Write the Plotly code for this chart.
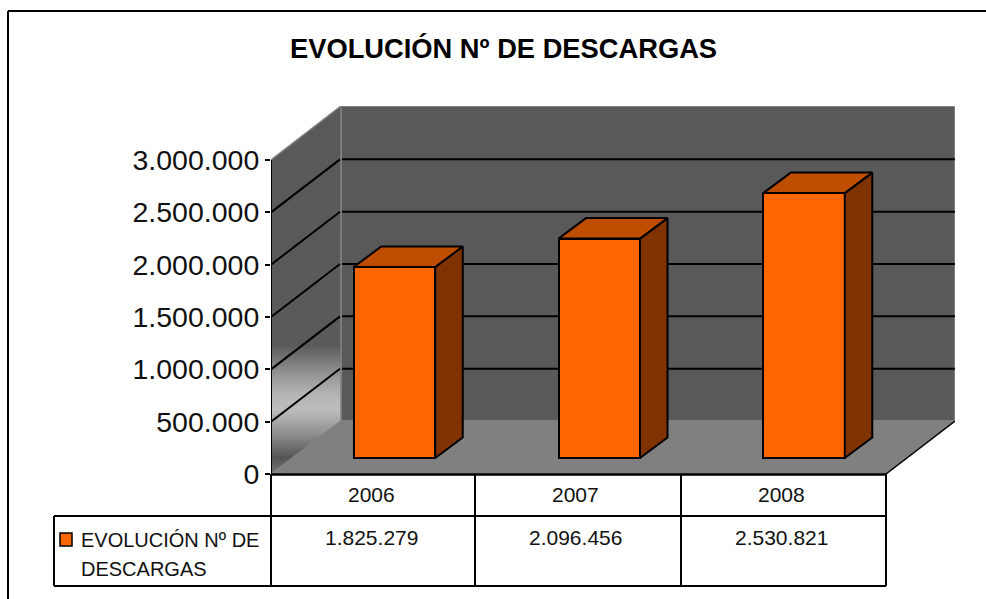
import plotly.graph_objects as go

title = "EVOLUCIÓN Nº DE DESCARGAS"
series_lines = ["EVOLUCIÓN Nº DE", "DESCARGAS"]
years = ["2006", "2007", "2008"]
values = [1825279, 2096456, 2530821]
y_ticks = [0, 500000, 1000000, 1500000, 2000000, 2500000, 3000000]

W, H = 986, 599
L, R, T, B = 271, 955, 106, 474
XU = 204.75               # px per category
YU = 52.33 / 500000       # px per value unit
xpos = [0, 1, 2]
X0 = (L - 394.5) / XU
X1 = X0 + (R - L) / XU
Y1 = (B - T) / YU

def dx(px): return px / XU
def dy(px): return px / YU

WALL_X, WALL_Y = dx(70), dy(53)
BASE = dy(16)
BAR_W = 81.5 / XU
BAR_X, BAR_Y = dx(27.5), dy(20.5)
AX_END = X0 + (886 - L) / XU

def fmt(v): return f"{v:,}".replace(",", ".")
def px(x): return (x - L) / (R - L)
def py(y): return (B - y) / (B - T)

fig = go.Figure()
def poly(xs, ys, fill, line=None, lw=1.5, axes="", grad=None):
    kw = dict(fillgradient=grad) if grad else dict(fillcolor=fill)
    fig.add_trace(go.Scatter(
        x=xs + xs[:1], y=ys + ys[:1], mode="lines", fill="toself",
        line=dict(color=line or "rgba(0,0,0,0)", width=lw),
        xaxis="x" + axes, yaxis="y" + axes, hoverinfo="skip", showlegend=False,
        cliponaxis=False, **kw))

# back wall
wx = X0 + WALL_X
poly([wx, X1, X1, wx], [WALL_Y, WALL_Y, Y1, Y1], "#595959", "#8c8c8c", 1.5)
# side wall, with gradient low down
poly([X0, wx, wx, X0], [0, WALL_Y, Y1, 3000000], "#595959", "#808080", 1.5,
     grad=dict(type="vertical", colorscale=[
         [0.0, "#707070"], [0.046, "#555555"], [0.11, "#909090"], [0.174, "#bdbdbd"],
         [0.215, "#b5b5b5"], [0.274, "#929292"], [0.35, "#5a5a5a"], [1.0, "#595959"]]))
# floor
poly([X0, AX_END, X1, wx], [0, 0, WALL_Y, WALL_Y], "#808080")

# gridlines: side wall and back wall
for t in y_ticks[1:-1]:
    fig.add_trace(go.Scatter(x=[X0, wx - dx(1)], y=[t, t + WALL_Y], mode="lines",
                             line=dict(color="black", width=2), showlegend=False,
                             hoverinfo="skip", cliponaxis=False))
    fig.add_trace(go.Scatter(x=[wx + dx(1), X1], y=[t + WALL_Y, t + WALL_Y], mode="lines",
                             line=dict(color="black", width=2), showlegend=False,
                             hoverinfo="skip", cliponaxis=False))
# front-right edge of floor
fig.add_trace(go.Scatter(x=[AX_END, X1], y=[0, WALL_Y], mode="lines",
                         line=dict(color="black", width=1.5), showlegend=False,
                         hoverinfo="skip", cliponaxis=False))
# value axis line
fig.add_trace(go.Scatter(x=[X0, X0], y=[0, 3000000], mode="lines",
                         line=dict(color="black", width=2), showlegend=False,
                         hoverinfo="skip", cliponaxis=False))

# bars on overlay axes so they sit above walls
fig.add_trace(go.Bar(x=xpos, y=values, base=[BASE] * 3, width=BAR_W,
                     marker=dict(color="#FF6600", line=dict(color="black", width=2)),
                     xaxis="x2", yaxis="y2", name="EVOLUCIÓN Nº DE DESCARGAS",
                     showlegend=False))
for x, v in zip(xpos, values):
    xr, xl = x + BAR_W / 2, x - BAR_W / 2
    top, bot = BASE + v, BASE
    poly([xr, xr + BAR_X, xr + BAR_X, xr], [bot, bot + BAR_Y, top + BAR_Y, top],
         "#803300", "black", 2, axes="2")
    poly([xl, xr, xr + BAR_X, xl + BAR_X], [top, top, top + BAR_Y, top + BAR_Y],
         "#BF4D00", "black", 2, axes="2")

# data table and frame
def hline(x0, x1, y, w=2):
    return dict(type="line", xref="paper", yref="paper", x0=px(x0), x1=px(x1),
                y0=py(y), y1=py(y), line=dict(color="black", width=w))
def vline(x, y0, y1, w=2):
    return dict(type="line", xref="paper", yref="paper", x0=px(x), x1=px(x),
                y0=py(y0), y1=py(y1), line=dict(color="black", width=w))
shapes = [
    hline(8, W, 11, 2), vline(8, 11, H, 2),
    hline(L, 886, 474.5, 2.5), hline(54, 886, 516, 2), hline(54, 886, 586, 2),
    vline(54, 516, 586), vline(L, 474, 586), vline(475, 474, 586),
    vline(681, 474, 586), vline(886, 474, 586),
    dict(type="rect", xref="paper", yref="paper", x0=px(60), x1=px(72), y0=py(546), y1=py(533),
         fillcolor="#FF6600", line=dict(color="black", width=1.5)),
]

anns = [dict(text="<b>" + title + "</b>", x=px(503), y=py(49), font=dict(size=27.3, color="black", family="Liberation Sans"))]
cols = [371.5, 575.5, 781]
for c, yr, v in zip(cols, years, values):
    anns.append(dict(text=yr, x=px(c), y=py(494), font=dict(size=21, color="#111", family="Liberation Sans")))
    anns.append(dict(text=fmt(v), x=px(c), y=py(537), font=dict(size=21, color="#111", family="Liberation Sans")))
for line, yy in zip(series_lines, [540, 569]):
    anns.append(dict(text=line, x=px(79), y=py(yy), xanchor="left",
                     font=dict(size=20, color="#111", family="Liberation Sans")))
for a in anns:
    a.update(xref="paper", yref="paper", showarrow=False)
    a.setdefault("xanchor", "center")
    a["yanchor"] = "middle"

fig.update_layout(
    width=W, height=H, autosize=False, margin=dict(l=L, r=W - R, t=T, b=H - B),
    paper_bgcolor="white", plot_bgcolor="white", separators=",.",
    font=dict(family="Liberation Sans", color="black"),
    showlegend=False, shapes=shapes, annotations=anns, bargap=0,
    xaxis=dict(range=[X0, X1], visible=False, fixedrange=True),
    yaxis=dict(range=[0, Y1], tickvals=y_ticks, tickformat=",d", ticks="outside",
               ticklen=5, tickwidth=2, tickcolor="black", showgrid=False, zeroline=False,
               showline=False, tickfont=dict(size=28.5, color="#111"), fixedrange=True),
    xaxis2=dict(range=[X0, X1], visible=False, overlaying="x", fixedrange=True),
    yaxis2=dict(range=[0, Y1], visible=False, overlaying="y", fixedrange=True),
)
fig.write_html("out.html", config=dict(displayModeBar=False),
               post_script="document.body.style.margin='0';document.body.style.overflow='hidden';")
